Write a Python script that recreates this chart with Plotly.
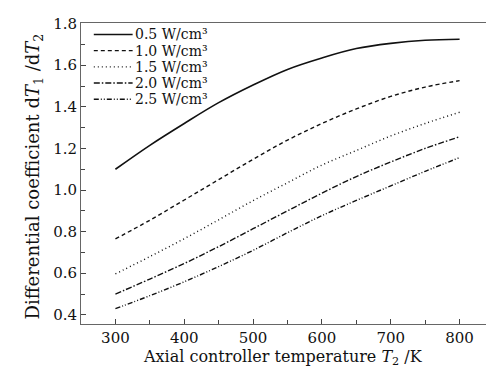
import plotly.graph_objects as go

temps = [300, 350, 400, 450, 500, 550, 600, 650, 700, 750, 800]
labels = ["0.5 W/cm³", "1.0 W/cm³", "1.5 W/cm³", "2.0 W/cm³", "2.5 W/cm³"]
q05 = [1.100, 1.215, 1.320, 1.420, 1.505, 1.580, 1.635, 1.680, 1.705, 1.720, 1.725]
q10 = [0.765, 0.855, 0.952, 1.050, 1.148, 1.240, 1.320, 1.390, 1.450, 1.495, 1.526]
q15 = [0.597, 0.680, 0.766, 0.857, 0.949, 1.035, 1.120, 1.190, 1.260, 1.320, 1.374]
q20 = [0.500, 0.572, 0.647, 0.728, 0.814, 0.900, 0.985, 1.065, 1.135, 1.200, 1.256]
q25 = [0.430, 0.492, 0.559, 0.632, 0.710, 0.795, 0.877, 0.950, 1.020, 1.090, 1.156]
series = [q05, q10, q15, q20, q25]
x_title = "Axial controller temperature <i>T</i><sub>2</sub> /K"
y_title = "Differential coefficient d<i>T</i><sub>1</sub> /d<i>T</i><sub>2</sub>"

dashes = ["solid", "4px,3px", "1px,3px", "6px,2px,1.5px,2px", "5px,2px,1px,2px,1px,2px"]
widths = [1.6, 1.4, 1.4, 1.4, 1.4]
col = "#111111"
font_family = "DejaVu Serif"

fig = go.Figure()
for name, ys, d, w in zip(labels, series, dashes, widths):
    fig.add_trace(go.Scatter(x=temps, y=ys, mode="lines", name=name,
                             line=dict(color=col, width=w, dash=d, shape="spline"),
                             showlegend=False))

# manual compact legend (top-left, inside)
leg_top = 0.962
leg_step = 0.0538
for i, (name, d, w) in enumerate(zip(labels, dashes, widths)):
    yy = leg_top - i * leg_step
    fig.add_shape(type="line", xref="paper", yref="paper",
                  x0=0.031, x1=0.125, y0=yy, y1=yy,
                  line=dict(color=col, width=w, dash=d))
    fig.add_annotation(xref="paper", yref="paper", x=0.128, y=yy,
                       text=name, showarrow=False, xanchor="left", yanchor="middle",
                       borderpad=0,
                       font=dict(family=font_family, size=14, color="#111"))

# axis titles placed as annotations (tight like the reference)
fig.add_annotation(xref="paper", yref="paper", x=0.488, y=-0.112,
                   text=x_title, showarrow=False, xanchor="center", yanchor="middle",
                   borderpad=0,
                   font=dict(family=font_family, size=16, color="#111"))
fig.add_annotation(xref="paper", yref="paper", x=-0.114, y=0.49,
                   text=y_title, showarrow=False, xanchor="center", yanchor="middle",
                   textangle=-90, borderpad=0,
                   font=dict(family=font_family, size=18, color="#111"))

axis_common = dict(showline=True, linecolor="#666", linewidth=1, mirror=True,
                   ticks="inside", ticklen=5, tickcolor="#444", showgrid=False,
                   zeroline=False,
                   tickfont=dict(family=font_family, size=15, color="#111"))

fig.update_xaxes(range=[250, 850], dtick=100, tick0=300,
                 minor=dict(dtick=50, ticks="inside", ticklen=4, tickcolor="#444"),
                 **axis_common)
fig.update_yaxes(range=[0.356, 1.803], dtick=0.2, tick0=0.4, tickformat=".1f",
                 minor=dict(dtick=0.1, ticks="inside", ticklen=4, tickcolor="#444"),
                 **axis_common)

fig.update_layout(width=494, height=366,
                  margin=dict(l=73, r=7, t=13, b=50),
                  paper_bgcolor="white", plot_bgcolor="white",
                  font=dict(family=font_family, color="#111"))

fig.write_html("out.html")
